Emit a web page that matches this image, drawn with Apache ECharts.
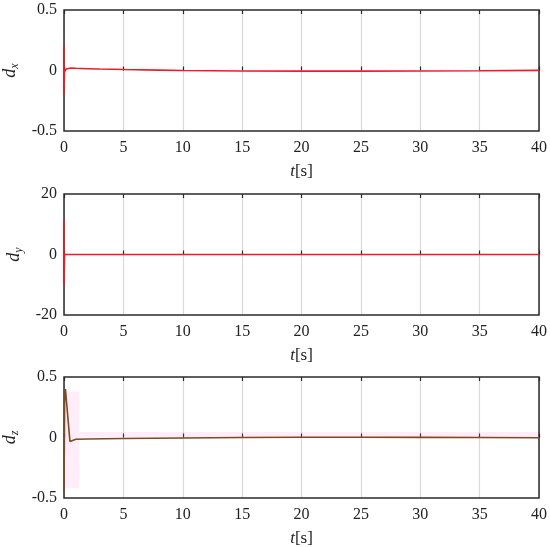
<!DOCTYPE html>
<html><head><meta charset="utf-8">
<script src="https://cdn.jsdelivr.net/npm/echarts@6/dist/echarts.min.js"></script>
<style>html,body{margin:0;padding:0;background:#fff}#c{width:550px;height:547px}</style>
</head><body><div id="c"></div>
<script>
// ---- data ----
var xTicks = [0, 5, 10, 15, 20, 25, 30, 35, 40];
var dxTime = [0, 0, 0, 0.04, 0.1, 0.18, 0.3, 0.6, 1, 2, 3, 5, 8, 10, 15, 20, 25, 30, 35, 40];
var dxVals = [0, 0.2, -0.2, -0.01, 0.0, 0.012, 0.02, 0.02, 0.018, 0.015, 0.012, 0.008, 0.003, 0.0, -0.004, -0.005, -0.005, -0.004, -0.002, 0.001];
var dyTime = [0, 0, 0, 0.05, 1, 10, 20, 30, 40];
var dyVals = [0, 11, -10, 0, 0, 0, 0, 0, 0];
var dzTime = [0, 0.05, 0.12, 0.5, 1, 2, 5, 10, 15, 20, 25, 30, 35, 40];
var dzVals = [-0.45, 0.3, 0.4, -0.033, -0.015, -0.012, -0.008, -0.004, 0, 0.002, 0.002, 0.001, 0, -0.002];
// faint shaded band in dz panel: [tStart, tEnd, low, high]
var dzBand = [[0, 1.3, -0.42, 0.38], [1.3, 40, 0.0, 0.045]];
var yRanges = [[-0.5, 0.5, 0.5], [-20, 20, 20], [-0.5, 0.5, 0.5]];
var yNames = ['x', 'y', 'z'];

function pairs(t, v) { return t.map(function (x, i) { return [x, v[i]]; }); }

var FONT = '"Liberation Serif", "DejaVu Serif", serif';
var tops = [10, 194, 377];
var H = 121;
var grids = [], xAxes = [], yAxes = [], series = [];
tops.forEach(function (top, k) {
  grids.push({ left: 64, right: 11, top: top, height: H, show: true, containLabel: false, outerBoundsMode: 'none',
    borderColor: '#2b2b2b', borderWidth: 1.5, backgroundColor: 'transparent', z: 2 });
  xAxes.push({
    type: 'value', gridIndex: k, min: 0, max: 40, interval: 5,
    axisLine: { show: false }, axisTick: { show: true, inside: true, length: 4, lineStyle: { color: '#2b2b2b', width: 1.2 } },
    axisLabel: { color: '#222', fontFamily: FONT, fontSize: 16, margin: 9 },
    splitLine: { show: true, lineStyle: { color: '#d9d9d9', width: 1.2 } },
    name: '{i|t}{n|[s]}', nameLocation: 'middle', nameGap: 32,
    nameTextStyle: { rich: { i: { fontFamily: FONT, fontStyle: 'italic', fontSize: 17, color: '#222' }, n: { fontFamily: FONT, fontSize: 17, color: '#222' } } }
  });
  xAxes.push({
    type: 'value', gridIndex: k, position: 'top', min: 0, max: 40, interval: 5,
    axisLine: { show: false }, axisTick: { show: true, inside: true, length: 4, lineStyle: { color: '#2b2b2b', width: 1.2 } },
    axisLabel: { show: false }, splitLine: { show: false }
  });
  var r = yRanges[k];
  yAxes.push({
    type: 'value', gridIndex: k, min: r[0], max: r[1], interval: r[2],
    axisLine: { show: false }, axisTick: { show: false },
    axisLabel: { color: '#222', fontFamily: FONT, fontSize: 16, margin: 7 },
    splitLine: { show: false },
    name: '{d|d}{s|' + yNames[k] + '}', nameLocation: 'middle', nameGap: 35, nameRotate: 90,
    nameTextStyle: { rich: {
      d: { fontFamily: FONT, fontStyle: 'italic', fontSize: 18, color: '#222' },
      s: { fontFamily: FONT, fontStyle: 'italic', fontSize: 12, color: '#222', padding: [9, 0, 0, 0] }
    } }
  });
});

series.push({
  type: 'custom', xAxisIndex: 4, yAxisIndex: 2, z: 1, silent: true,
  data: dzBand,
  renderItem: function (params, api) {
    var p1 = api.coord([api.value(0), api.value(3)]);
    var p2 = api.coord([api.value(1), api.value(2)]);
    return { type: 'rect', shape: { x: p1[0], y: p1[1], width: p2[0] - p1[0], height: p2[1] - p1[1] }, style: { fill: 'rgba(255,120,220,0.13)' } };
  }
});
series.push({ type: 'line', xAxisIndex: 0, yAxisIndex: 0, data: pairs(dxTime, dxVals), showSymbol: false, clip: false, lineStyle: { color: '#ee1c25', width: 1.6 }, z: 10 });
series.push({ type: 'line', xAxisIndex: 2, yAxisIndex: 1, data: pairs(dyTime, dyVals), showSymbol: false, clip: false, lineStyle: { color: '#ee1c25', width: 1.6 }, z: 10 });
series.push({ type: 'line', xAxisIndex: 4, yAxisIndex: 2, data: pairs(dzTime, dzVals), showSymbol: false, clip: false, lineStyle: { color: '#7e4a1e', width: 1.6 }, z: 10 });

var chart = echarts.init(document.getElementById('c'), null, { renderer: 'canvas' });
chart.setOption({ animation: false, backgroundColor: '#fff', grid: grids, xAxis: xAxes, yAxis: yAxes, series: series });
</script></body></html>
